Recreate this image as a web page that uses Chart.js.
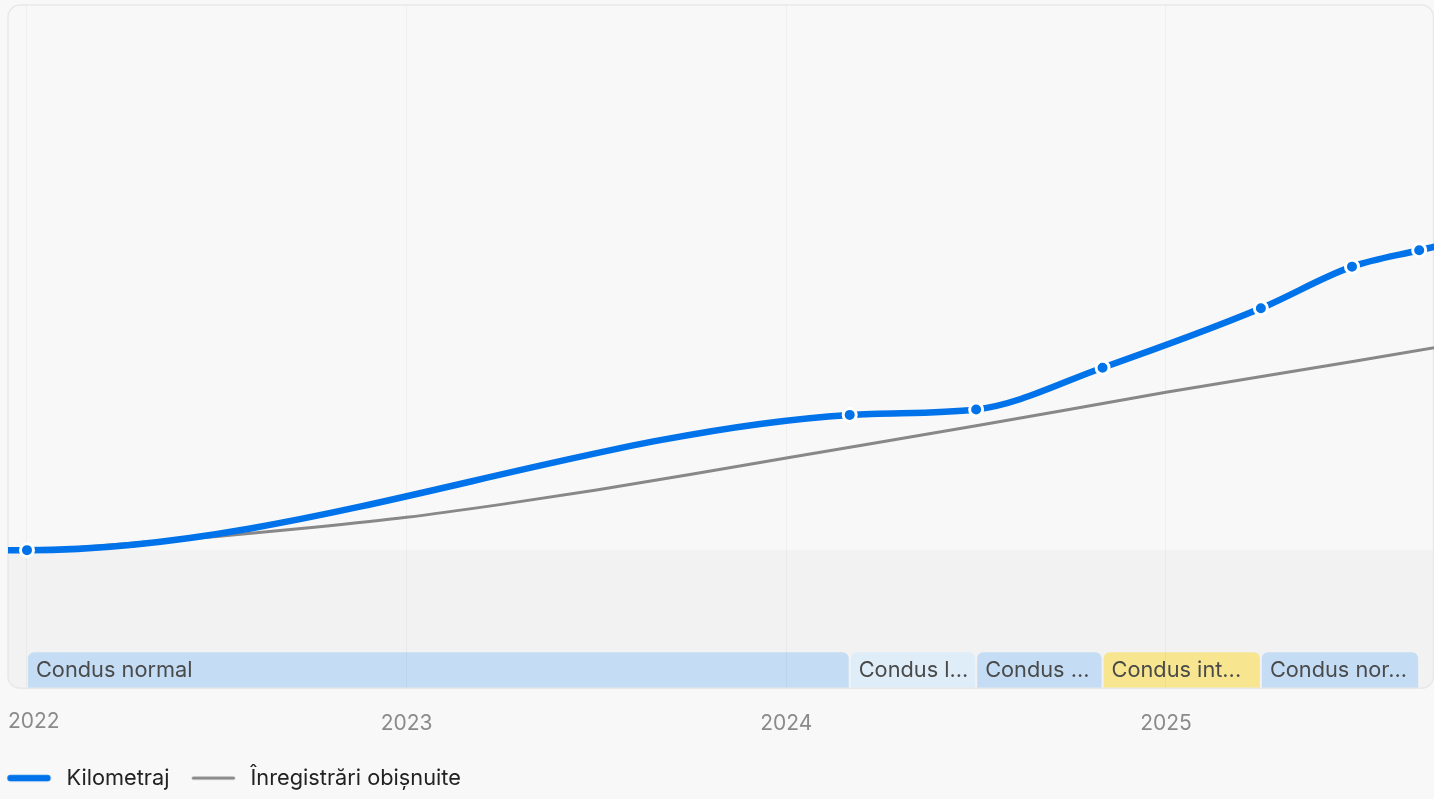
<!DOCTYPE html>
<html><head><meta charset="utf-8">
<script src="https://cdn.jsdelivr.net/npm/chart.js@4"></script>
<style>
html,body{margin:0;padding:0;background:#f8f8f8;}
#wrap{width:1434px;height:799px;position:relative;}
</style>
</head><body><div id="wrap"><canvas id="c"></canvas></div>
<script>
// ---- data ----
const yearTicks = [2022, 2023, 2024, 2025];
const mileageDates = [2021.9, 2022.0, 2024.167, 2024.5, 2024.833, 2025.25, 2025.49, 2025.667, 2025.83];
const mileageKm   = [20200, 20200, 40000, 40800, 46900, 55600, 61700, 64100, 66200];
const mileageMarked = [false, true, true, true, true, true, true, true, false];
const usualDates = [2021.9, 2022.0, 2022.25, 2022.5, 2022.75, 2023.0, 2023.25, 2023.5, 2023.75, 2024.0, 2024.5, 2025.0, 2025.5, 2026.0];
const usualKm    = [20200, 20200, 21100, 22200, 23500, 25000, 26900, 29000, 31300, 33700, 38400, 43300, 47900, 52600];
const segmentStarts = [2022.0, 2024.167, 2024.5, 2024.833, 2025.25];
const segmentEnds   = [2024.167, 2024.5, 2024.833, 2025.25, 2025.667];
const segmentLabels = ['Condus normal', 'Condus l...', 'Condus ...', 'Condus int...', 'Condus nor...'];
const segmentKinds  = ['normal', 'light', 'normal', 'intense', 'normal'];
const baselineKm = 20200;
const seriesNames = ['Kilometraj', 'Înregistrări obișnuite'];

// ---- styles ----
const BLUE = '#0073EA', GREY = '#888888', TICK = '#8a8a8a';
const KIND_COLORS = {normal: '#c4ddf5', light: '#deedf8', intense: '#f7e68f'};
const TICK_PAD = 23.4;
Chart.defaults.font.family = 'Inter';
Chart.defaults.font.size = 21;

function lineImg(color, w, shift) {
  const c = document.createElement('canvas');
  c.width = 80; c.height = 12;
  const g = c.getContext('2d');
  g.strokeStyle = color; g.lineWidth = w; g.lineCap = 'round';
  const cx = 40 + shift;
  g.beginPath(); g.moveTo(cx - 21.7 + w / 2, 6); g.lineTo(cx + 21.7 - w / 2, 6); g.stroke();
  return c;
}
const legendImgs = [lineImg(BLUE, 6.5, 4.9), lineImg(GREY, 3, 5.3)];

function rr(ctx, x, y, w, h, r) {
  ctx.beginPath();
  ctx.moveTo(x + r, y);
  ctx.lineTo(x + w - r, y); ctx.arcTo(x + w, y, x + w, y + r, r);
  ctx.lineTo(x + w, y + h - r); ctx.arcTo(x + w, y + h, x + w - r, y + h, r);
  ctx.lineTo(x + r, y + h); ctx.arcTo(x, y + h, x, y + h - r, r);
  ctx.lineTo(x, y + r); ctx.arcTo(x, y, x + r, y, r);
  ctx.closePath();
}
function topRounded(ctx, x, y, w, h, r) {
  ctx.beginPath();
  ctx.moveTo(x, y + h); ctx.lineTo(x, y + r); ctx.arcTo(x, y, x + r, y, r);
  ctx.lineTo(x + w - r, y); ctx.arcTo(x + w, y, x + w, y + r, r);
  ctx.lineTo(x + w, y + h); ctx.closePath();
}

const panelPlugin = {
  id: 'panel',
  beforeDraw(chart) {
    const {ctx, chartArea: a, scales: {x, y}} = chart;
    ctx.save();
    ctx.fillStyle = '#f8f8f8';
    ctx.fillRect(0, 0, chart.width, chart.height);
    rr(ctx, a.left, a.top, a.right - a.left, a.bottom - a.top, 12);
    ctx.fillStyle = '#f8f8f8';
    ctx.fill();
    ctx.clip();
    const yb = y.getPixelForValue(baselineKm);
    ctx.fillStyle = '#f2f2f2';
    ctx.fillRect(a.left, yb, a.right - a.left, a.bottom - yb);
    const bandH = 36;
    ctx.font = '21.75px Inter';
    ctx.textBaseline = 'middle';
    for (let i = 0; i < segmentStarts.length; i++) {
      const x0 = x.getPixelForValue(segmentStarts[i]) + 1;
      const x1 = x.getPixelForValue(segmentEnds[i]) - 1;
      topRounded(ctx, x0, a.bottom - bandH, x1 - x0, bandH, 6);
      ctx.fillStyle = KIND_COLORS[segmentKinds[i]];
      ctx.fill();
      ctx.save();
      ctx.beginPath(); ctx.rect(x0, a.bottom - bandH, x1 - x0, bandH); ctx.clip();
      ctx.fillStyle = '#4a4a4a';
      ctx.fillText(segmentLabels[i], x0 + 8, a.bottom - bandH / 2 + 0.5);
      ctx.restore();
    }
    ctx.restore();
  },
  beforeDatasetsDraw(chart) {
    const {ctx, chartArea: a} = chart;
    ctx.save();
    rr(ctx, a.left, a.top, a.right - a.left - 0.5, a.bottom - a.top, 12);
    ctx.strokeStyle = '#e8e8e8';
    ctx.lineWidth = 1.5;
    ctx.stroke();
    ctx.restore();
  },
  afterDraw(chart) {
    // first year label is kept inside the panel's left edge
    const {ctx, chartArea: a, scales: {x}} = chart;
    const txt = String(yearTicks[0]);
    ctx.save();
    ctx.font = '21px Inter';
    ctx.fillStyle = TICK;
    ctx.textBaseline = 'top';
    const w = ctx.measureText(txt).width;
    const left = Math.max(x.getPixelForValue(yearTicks[0]) - w / 2, a.left);
    ctx.fillText(txt, left, a.bottom + TICK_PAD);
    ctx.restore();
  }
};

new Chart(document.getElementById('c'), {
  type: 'line',
  data: {
    datasets: [
      {
        label: seriesNames[0],
        data: mileageDates.map((d, i) => ({x: d, y: mileageKm[i]})),
        borderColor: BLUE, backgroundColor: BLUE, borderWidth: 6.5, borderCapStyle: 'round',
        cubicInterpolationMode: 'monotone',
        pointRadius: c => mileageMarked[c.dataIndex] ? 6.5 : 0,
        pointHoverRadius: c => mileageMarked[c.dataIndex] ? 6.5 : 0,
        pointBackgroundColor: BLUE, pointBorderColor: '#ffffff', pointBorderWidth: 3, fill: false
      },
      {
        label: seriesNames[1],
        data: usualDates.map((d, i) => ({x: d, y: usualKm[i]})),
        borderColor: GREY, backgroundColor: GREY, borderWidth: 3, borderCapStyle: 'round',
        cubicInterpolationMode: 'monotone', pointRadius: 0, pointHoverRadius: 0, fill: false
      }
    ]
  },
  options: {
    responsive: true, maintainAspectRatio: false, animation: false, events: [],
    layout: {padding: {left: -14.5, right: 0, top: 5, bottom: 0}},
    scales: {
      x: {
        type: 'linear', min: 2021.95, max: 2025.706,
        afterBuildTicks: s => { s.ticks = yearTicks.map(v => ({value: v})); },
        afterFit: s => { s.paddingLeft = 0; s.paddingRight = 0; },
        ticks: {
          callback: v => String(v),
          color: c => c.index === 0 ? 'rgba(0,0,0,0)' : TICK,
          font: {size: 21}, padding: TICK_PAD, maxRotation: 0, autoSkip: false
        },
        grid: {color: 'rgba(0,0,0,0.035)', lineWidth: 1, drawTicks: false},
        border: {display: false}
      },
      y: {
        min: 0, max: 100000,
        ticks: {display: false}, grid: {display: false}, border: {display: false},
        afterFit: s => { s.width = 22.5; }
      }
    },
    plugins: {
      tooltip: {enabled: false},
      legend: {
        position: 'bottom', align: 'start',
        labels: {
          usePointStyle: true, pointStyleWidth: 63, padding: 7.1, color: '#222222', font: {size: 21.75},
          generateLabels: chart => {
            const items = Chart.defaults.plugins.legend.labels.generateLabels(chart);
            items.forEach((it, i) => { it.pointStyle = legendImgs[i]; });
            return items;
          }
        }
      }
    }
  },
  plugins: [panelPlugin]
});
</script>
</body></html>
